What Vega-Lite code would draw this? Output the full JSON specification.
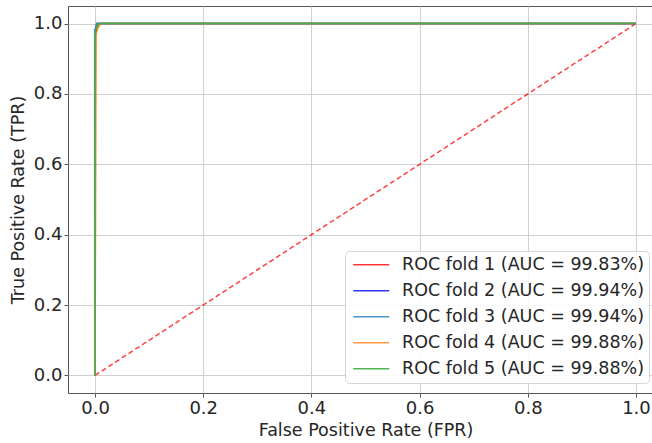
{
  "$schema": "https://vega.github.io/schema/vega-lite/v6.json",
  "width": 595,
  "height": 387,
  "autosize": {"type": "none"},
  "padding": {"left": 68, "top": 6, "right": 0, "bottom": 50},
  "background": "white",
  "config": {
    "font": "DejaVu Sans",
    "view": {"stroke": "#555555", "strokeWidth": 1},
    "axis": {
      "labelFont": "DejaVu Sans",
      "titleFont": "DejaVu Sans",
      "labelFontSize": 18,
      "titleFontSize": 17.5,
      "titleFontWeight": "normal",
      "labelColor": "#262626",
      "titleColor": "#262626",
      "grid": true,
      "gridColor": "#d0d0d0",
      "gridWidth": 1,
      "domain": false,
      "tickColor": "#555555",
      "tickSize": 4,
      "labelPadding": 2
    },
    "legend": {
      "labelFont": "DejaVu Sans",
      "labelFontSize": 17.5,
      "labelColor": "#262626",
      "labelLimit": 400
    }
  },
  "data": {
    "values": [
      {"fold": "ROC fold 1 (AUC = 99.83%)", "fpr": 0.0, "tpr": 0.0},
      {"fold": "ROC fold 1 (AUC = 99.83%)", "fpr": 0.0, "tpr": 0.96},
      {"fold": "ROC fold 1 (AUC = 99.83%)", "fpr": 0.004, "tpr": 0.99},
      {"fold": "ROC fold 1 (AUC = 99.83%)", "fpr": 0.009, "tpr": 1.0},
      {"fold": "ROC fold 1 (AUC = 99.83%)", "fpr": 1.0, "tpr": 1.0},
      {"fold": "ROC fold 2 (AUC = 99.94%)", "fpr": 0.0, "tpr": 0.0},
      {"fold": "ROC fold 2 (AUC = 99.94%)", "fpr": 0.0, "tpr": 0.98},
      {"fold": "ROC fold 2 (AUC = 99.94%)", "fpr": 0.003, "tpr": 1.0},
      {"fold": "ROC fold 2 (AUC = 99.94%)", "fpr": 1.0, "tpr": 1.0},
      {"fold": "ROC fold 3 (AUC = 99.94%)", "fpr": 0.0, "tpr": 0.0},
      {"fold": "ROC fold 3 (AUC = 99.94%)", "fpr": 0.0, "tpr": 0.98},
      {"fold": "ROC fold 3 (AUC = 99.94%)", "fpr": 0.003, "tpr": 1.0},
      {"fold": "ROC fold 3 (AUC = 99.94%)", "fpr": 1.0, "tpr": 1.0},
      {"fold": "ROC fold 4 (AUC = 99.88%)", "fpr": 0.0, "tpr": 0.0},
      {"fold": "ROC fold 4 (AUC = 99.88%)", "fpr": 0.002, "tpr": 0.97},
      {"fold": "ROC fold 4 (AUC = 99.88%)", "fpr": 0.006, "tpr": 0.99},
      {"fold": "ROC fold 4 (AUC = 99.88%)", "fpr": 0.011, "tpr": 1.0},
      {"fold": "ROC fold 4 (AUC = 99.88%)", "fpr": 1.0, "tpr": 1.0},
      {"fold": "ROC fold 5 (AUC = 99.88%)", "fpr": 0.0, "tpr": 0.0},
      {"fold": "ROC fold 5 (AUC = 99.88%)", "fpr": 0.0, "tpr": 0.97},
      {"fold": "ROC fold 5 (AUC = 99.88%)", "fpr": 0.004, "tpr": 0.995},
      {"fold": "ROC fold 5 (AUC = 99.88%)", "fpr": 0.008, "tpr": 1.0},
      {"fold": "ROC fold 5 (AUC = 99.88%)", "fpr": 1.0, "tpr": 1.0}
    ]
  },
  "layer": [
    {
      "data": {"values": [{"fpr": 0, "tpr": 0}, {"fpr": 1, "tpr": 1}]},
      "mark": {"type": "line", "color": "#ff0000", "strokeDash": [5, 3], "strokeWidth": 1.5, "opacity": 0.75},
      "encoding": {
        "x": {"field": "fpr", "type": "quantitative"},
        "y": {"field": "tpr", "type": "quantitative"}
      }
    },
    {
      "mark": {"type": "line", "strokeWidth": 1.5, "opacity": 1},
      "encoding": {
        "x": {
          "field": "fpr",
          "type": "quantitative",
          "title": "False Positive Rate (FPR)",
          "scale": {"domain": [-0.05, 1.05], "nice": false, "zero": false},
          "axis": {"values": [0, 0.2, 0.4, 0.6, 0.8, 1.0], "format": ".1f", "titlePadding": 4}
        },
        "y": {
          "field": "tpr",
          "type": "quantitative",
          "title": "True Positive Rate (TPR)",
          "scale": {"domain": [-0.05, 1.05], "nice": false, "zero": false},
          "axis": {"values": [0, 0.2, 0.4, 0.6, 0.8, 1.0], "format": ".1f", "titlePadding": 6}
        },
        "color": {
          "field": "fold",
          "type": "nominal",
          "title": null,
          "scale": {
            "domain": ["ROC fold 1 (AUC = 99.83%)", "ROC fold 2 (AUC = 99.94%)", "ROC fold 3 (AUC = 99.94%)", "ROC fold 4 (AUC = 99.88%)", "ROC fold 5 (AUC = 99.88%)"],
            "range": ["#ff2020", "#2020ff", "#3a8cc4", "#ff8c2a", "#40b040"]
          },
          "legend": {
            "orient": "none",
            "legendX": 277,
            "legendY": 245,
            "symbolType": "M-3,0H3",
            "symbolSize": 144,
            "symbolStrokeWidth": 1.5,
            "symbolOpacity": 0.9,
            "symbolOffset": 12.5,
            "labelOffset": 22,
            "rowPadding": 7,
            "padding": 5,
            "fillColor": "rgba(255,255,255,0.85)",
            "strokeColor": "#d6d6d6",
            "cornerRadius": 4
          }
        },
        "order": {"field": "tpr", "type": "quantitative"}
      }
    }
  ]
}
